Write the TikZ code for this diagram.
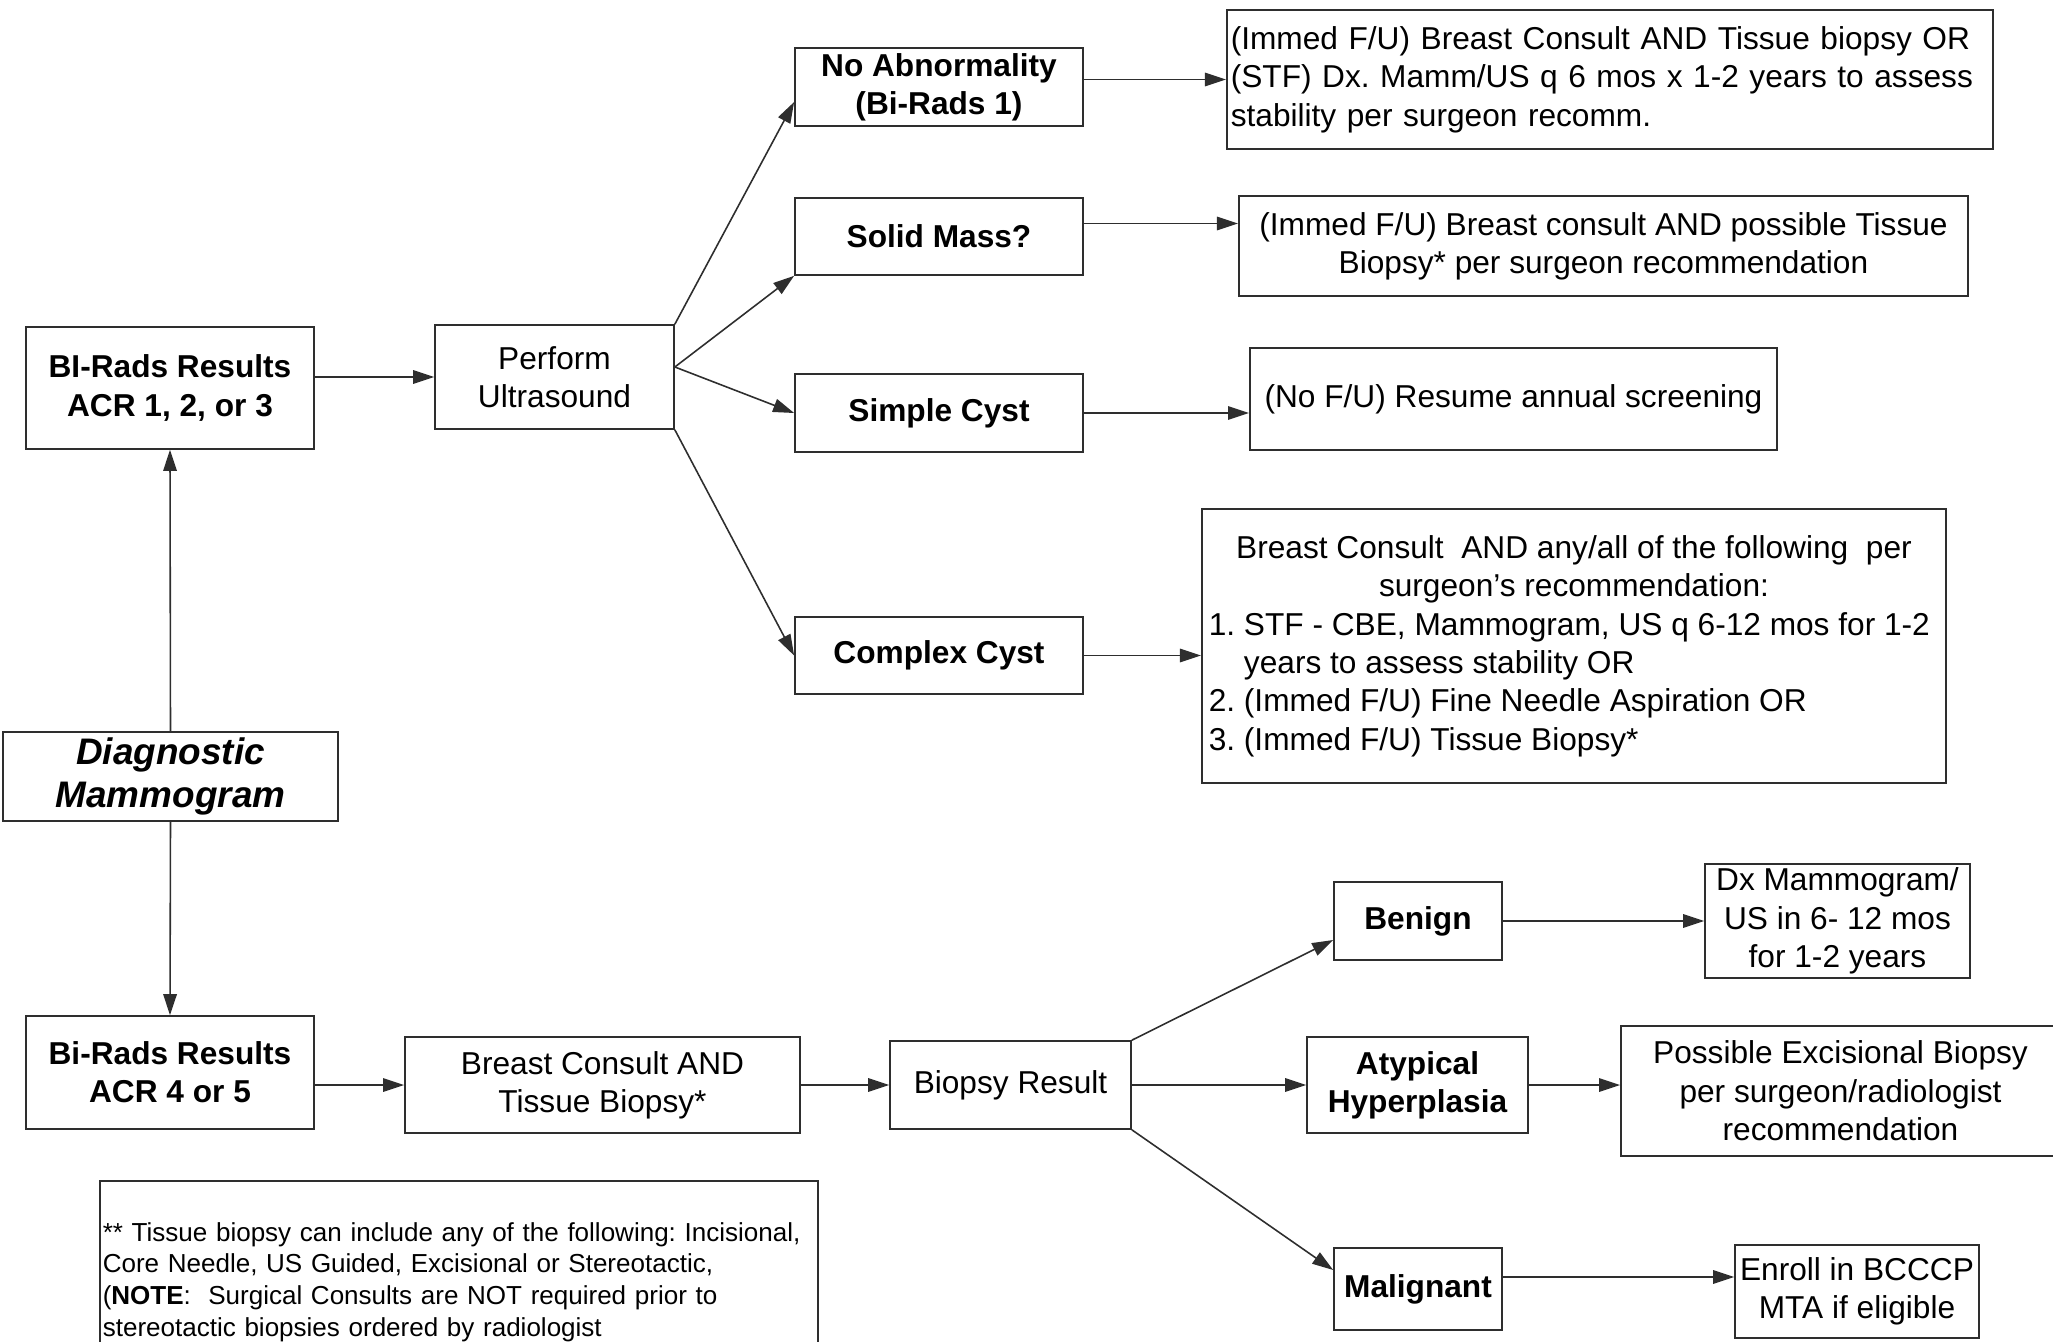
\documentclass[tikz,border=0pt]{standalone}
\usepackage{fontspec}
\setmainfont{Liberation Sans}
\usetikzlibrary{arrows.meta}
\definecolor{FrameGray}{HTML}{2E2E2E}
\definecolor{Ink}{HTML}{000000}
\frenchspacing

\begin{document}
\begin{tikzpicture}[x=0.01cm, y=-0.01cm,
    box/.style={draw=FrameGray, line width=0.45pt, fill=white, inner xsep=0.05cm, inner ysep=0.02cm, align=center, text=Ink, font=\fontsize{9}{10.9}\selectfont},
    hdr/.style={box, font=\fontsize{9}{10.9}\selectfont\bfseries},
    flow/.style={draw=FrameGray, line width=0.45pt, -{Triangle[length=0.21cm, width=0.135cm]}}]
    \useasboundingbox (0,0) rectangle (2053,1342);
    \clip (0,0) rectangle (2053,1342);
    \node[hdr, minimum width=2.88cm, minimum height=1.22cm] (acrlow) at (170,388) {BI-Rads Results\\ACR 1, 2, or 3};
    \node[box, minimum width=2.39cm, minimum height=1.04cm] (ultra) at (554.5,377) {Perform\\Ultrasound};
    \node[hdr, minimum width=2.88cm, minimum height=0.78cm] (noabn) at (939,87) {No Abnormality\\(Bi-Rads 1)};
    \node[hdr, minimum width=2.88cm, minimum height=0.77cm] (solid) at (939,236.5) {Solid Mass?};
    \node[hdr, minimum width=2.88cm, minimum height=0.78cm] (simple) at (939,413) {Simple Cyst};
    \node[hdr, minimum width=2.88cm, minimum height=0.77cm] (complex) at (939,655.5) {Complex Cyst};
    \node[box, align=left, text width=7.58cm, inner xsep=0.04cm, minimum height=1.39cm] (res1) at (1610,79.5) {(Immed F/U) Breast Consult AND Tissue biopsy OR\\(STF) Dx. Mamm/US q 6 mos x 1-2 years to assess\\stability per surgeon recomm.};
    \node[box, minimum width=7.29cm, minimum height=1.00cm] (res2) at (1603.5,246) {(Immed F/U) Breast consult AND possible Tissue\\Biopsy* per surgeon recommendation};
    \node[box, minimum width=5.27cm, minimum height=1.02cm] (res3) at (1513.5,399) {(No F/U) Resume annual screening};
    \node[box, align=none, text width=7.3cm, inner xsep=0.07cm, minimum height=2.74cm] (res4) at (1574,646) {\centering Breast Consult\ \ AND any/all of the following\ \ per\\surgeon’s recommendation:\par
      \raggedright 1. STF - CBE, Mammogram, US q 6-12 mos for 1-2\\\phantom{1. }years to assess stability OR\\2. (Immed F/U) Fine Needle Aspiration OR\\3. (Immed F/U) Tissue Biopsy*\par};
    \node[box, font=\fontsize{10.5}{12.2}\selectfont\bfseries\itshape, minimum width=3.35cm, minimum height=0.89cm] (diagmammo) at (170.5,776.5) {Diagnostic\\Mammogram};
    \node[hdr, minimum width=2.88cm, minimum height=1.13cm] (acrhigh) at (170,1072.5) {Bi-Rads Results\\ACR 4 or 5};
    \node[box, minimum width=3.95cm, minimum height=0.96cm] (consult) at (602.5,1085) {Breast Consult AND\\Tissue Biopsy*};
    \node[box, minimum width=2.41cm, minimum height=0.88cm] (biopsy) at (1010.5,1085) {Biopsy Result};
    \node[hdr, minimum width=1.68cm, minimum height=0.78cm] (benign) at (1418,921) {Benign};
    \node[hdr, minimum width=2.21cm, minimum height=0.96cm] (atypical) at (1417.5,1085) {Atypical\\Hyperplasia};
    \node[hdr, minimum width=1.68cm, minimum height=0.82cm] (malignant) at (1418,1289) {Malignant};
    \node[box, minimum width=2.65cm, minimum height=1.14cm, inner ysep=0cm] (dxfollow) at (1837.5,921) {Dx Mammogram/\\US in 6- 12 mos\\for 1-2 years};
    \node[box, minimum width=4.39cm, minimum height=1.30cm] (excision) at (1840.5,1091) {Possible Excisional Biopsy\\per surgeon/radiologist\\recommendation};
    \node[box, minimum width=2.40cm, minimum height=0.93cm] (enroll) at (1857,1291.5) {Enroll in BCCCP\\MTA if eligible};
    \node[box, align=left, font=\fontsize{7.4}{9.0}\selectfont, text width=7.12cm, inner xsep=0.03cm, minimum height=2.02cm] (note) at (459,1282) {** Tissue biopsy can include any of the following: Incisional,\\Core Needle, US Guided, Excisional or Stereotactic,\\(\textbf{NOTE}:\ \ Surgical Consults are NOT required prior to\\stereotactic biopsies ordered by radiologist};
    \coordinate (solidout) at ([yshift=0.13cm]solid.east);
    \coordinate (malout) at ([yshift=0.12cm]malignant.east);
    \draw[flow] (diagmammo.north) -- (acrlow.south);
    \draw[flow] (diagmammo.south) -- (acrhigh.north);
    \draw[flow] (ultra.west -| acrlow.east) -- (ultra.west);
    \draw[flow] (ultra.north east) -- ([yshift=-0.15cm]noabn.west);
    \draw[flow] ([yshift=0.1cm]ultra.east) -- (solid.south west);
    \draw[flow] ([yshift=0.1cm]ultra.east) -- (simple.west);
    \draw[flow] (ultra.south east) -- (complex.west);
    \draw[flow] (noabn.east |- res1.west) -- (res1.west);
    \draw[flow] (solidout) -- (solidout -| res2.west);
    \draw[flow] (simple.east) -- (simple.east -| res3.west);
    \draw[flow] (complex.east) -- (complex.east -| res4.west);
    \draw[flow] (consult.west -| acrhigh.east) -- (consult.west);
    \draw[flow] (consult.east) -- (biopsy.west);
    \draw[flow] (biopsy.north east) -- ([yshift=-0.19cm]benign.west);
    \draw[flow] (biopsy.east) -- (atypical.west);
    \draw[flow] (biopsy.south east) -- ([yshift=0.19cm]malignant.west);
    \draw[flow] (benign.east) -- (dxfollow.west);
    \draw[flow] (atypical.east) -- (atypical.east -| excision.west);
    \draw[flow] (malout) -- (malout -| enroll.west);
\end{tikzpicture}
\end{document}
